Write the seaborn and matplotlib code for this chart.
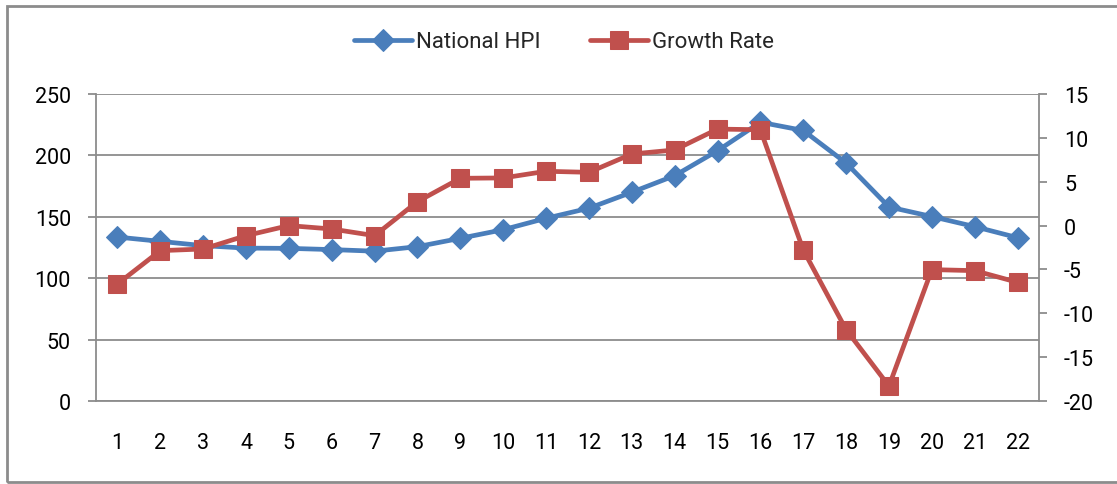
import matplotlib
matplotlib.use("Agg")
import matplotlib.pyplot as plt
import seaborn as sns
import pandas as pd
from matplotlib.patches import Rectangle

periods = list(range(1, 23))
national_hpi = [133.5, 130, 126.5, 124.5, 124.3, 123.3, 122, 125.7, 132.5, 139.5, 148.8,
                157, 170, 183.5, 203.8, 227, 220.3, 193.8, 158, 150.2, 142, 133]
growth_rate = [-6.66, -2.86, -2.67, -1.15, 0.0, -0.39, -1.15, 2.73, 5.39, 5.43, 6.19,
               6.07, 8.16, 8.62, 11.0, 10.93, -2.78, -11.87, -18.3, -5.02, -5.14, -6.47]

df = pd.DataFrame({"Period": periods, "National HPI": national_hpi, "Growth Rate": growth_rate})

sns.set_style("white")
plt.rcParams["font.family"] = ["Roboto", "DejaVu Sans"]
plt.rcParams["axes.unicode_minus"] = False

blue = "#4A7EBB"
red = "#C0504D"
grey = "#8C8C8C"

fig = plt.figure(figsize=(11.17, 4.85), dpi=100)
ax = fig.add_axes([96 / 1117, 83 / 485, 943 / 1117, 307 / 485])
ax2 = ax.twinx()

sns.lineplot(data=df, x="Period", y="National HPI", ax=ax, color=blue, lw=3.4,
             marker="D", markersize=11, markeredgecolor=blue, label="National HPI", legend=False)
sns.lineplot(data=df, x="Period", y="Growth Rate", ax=ax2, color=red, lw=3.4,
             marker="s", markersize=12.5, markeredgecolor=red, label="Growth Rate", legend=False)

ax.set_xlim(0.5, 22.5)
ax.set_ylim(0, 250)
ax.set_yticks([0, 50, 100, 150, 200, 250])
ax2.set_ylim(-20, 15)
ax2.set_yticks(list(range(-20, 16, 5)))
ax.set_xticks(periods)
ax.set_xticks([p + 0.5 for p in range(0, 23)], minor=True)

ax.grid(axis="y", color=grey, lw=1.3)
ax.set_axisbelow(True)
ax.set_xlabel("")
ax.set_ylabel("")
ax2.set_ylabel("")

for a in (ax, ax2):
    for s in a.spines.values():
        s.set_visible(False)
ax.spines["left"].set_visible(True)
ax.spines["bottom"].set_visible(True)
ax2.spines["right"].set_visible(True)
for s in (ax.spines["left"], ax.spines["bottom"], ax2.spines["right"]):
    s.set_color(grey)
    s.set_linewidth(1.3)

ax.tick_params(axis="x", which="major", length=0, pad=22, labelsize=15.5, colors="black")
ax.tick_params(axis="x", which="minor", length=6, width=1.3, color=grey, direction="out")
ax.tick_params(axis="y", length=6, width=1.3, color=grey, direction="out", pad=12, labelsize=15.5, labelcolor="black")
ax2.tick_params(axis="y", length=6, width=1.3, color=grey, direction="out", pad=12, labelsize=15.5, labelcolor="black")

lines = ax.get_lines()[:1] + ax2.get_lines()[:1]
fig.legend(lines, ["National HPI", "Growth Rate"], loc="center", bbox_to_anchor=(0.505, 1 - 43 / 485),
           ncol=2, frameon=False, fontsize=16, handlelength=2.6, columnspacing=2.2, handletextpad=0.2)

fig.patches.append(Rectangle((7 / 1117, 2 / 485), 1117 / 1117, 476 / 485, transform=fig.transFigure,
                             fill=False, edgecolor=grey, lw=2))

fig.savefig("out.png", dpi=100)
